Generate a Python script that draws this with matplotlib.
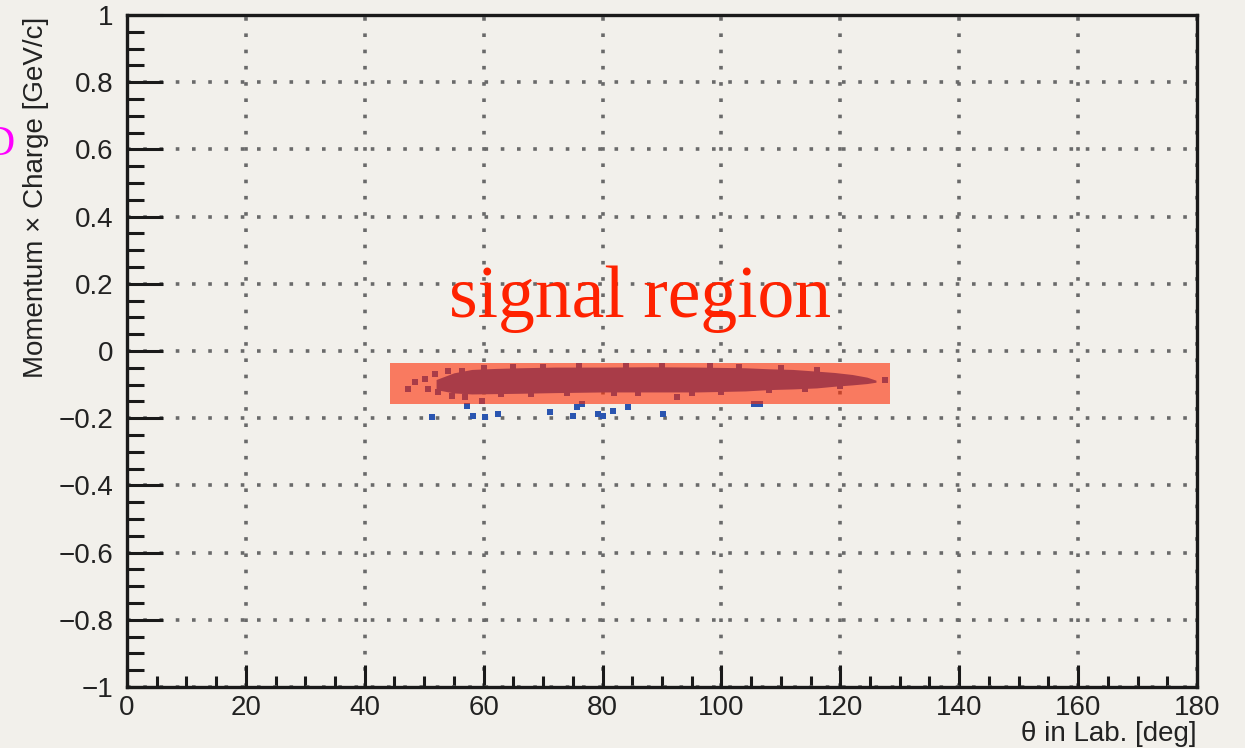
import numpy as np
import matplotlib.pyplot as plt
from matplotlib.patches import Rectangle
from matplotlib.ticker import MultipleLocator

# dense part of the track band: theta [deg] with upper / lower edge of p*q [GeV/c]
band_theta = [52, 55, 58, 62, 66, 72, 80, 88, 96, 104, 108, 112, 116, 119, 122, 124.5, 126]
band_upper = [-0.085, -0.065, -0.055, -0.052, -0.050, -0.048, -0.048, -0.047, -0.048,
              -0.050, -0.053, -0.055, -0.060, -0.064, -0.070, -0.078, -0.087]
band_lower = [-0.115, -0.125, -0.128, -0.127, -0.126, -0.124, -0.122, -0.122, -0.122,
              -0.119, -0.115, -0.113, -0.110, -0.105, -0.101, -0.097, -0.093]

# sparse hits at the band start / end
sparse_theta = [47.3, 48.5, 50.1, 51.8, 54.0, 56.4, 50.6, 52.3, 54.7, 56.9, 59.7, 92.5, 127.5]
sparse_p = [-0.113, -0.092, -0.083, -0.068, -0.060, -0.060, -0.113, -0.122, -0.134,
            -0.137, -0.149, -0.137, -0.086]

# hits on the rim of the band
rim_theta = [60, 65, 70, 76, 84, 90, 98, 103, 110, 116,
             63, 68, 74, 82, 86, 95, 100, 108, 114, 120]
rim_p = [-0.050, -0.047, -0.048, -0.045, -0.046, -0.045, -0.046, -0.048, -0.052, -0.058,
         -0.128, -0.128, -0.126, -0.124, -0.125, -0.124, -0.122, -0.117, -0.113, -0.105]

# hits below the signal band
low_theta = [51.3, 57.2, 58.2, 60.2, 62.4, 71.2, 75.0, 75.7, 76.5, 79.2, 80.1, 81.8,
             84.3, 90.2, 105.5, 106.5]
low_p = [-0.196, -0.164, -0.193, -0.196, -0.188, -0.182, -0.193, -0.167, -0.158,
         -0.188, -0.193, -0.179, -0.167, -0.188, -0.158, -0.158]

# signal window
signal_theta = [44.3, 128.4]
signal_p = [-0.159, -0.036]

bg = '#f2f0eb'
hit_color = '#2a55b0'
ink = '#1a1a1a'

fig = plt.figure(figsize=(12.45, 7.48), dpi=100, facecolor=bg)
ax = fig.add_axes([0.102, 0.0816, 0.8594, 0.8984], facecolor=bg)

ax.fill_between(band_theta, band_lower, band_upper, color=hit_color, lw=0, zorder=2)
for xs, ys in [(sparse_theta, sparse_p), (rim_theta, rim_p), (low_theta, low_p)]:
    ax.plot(xs, ys, 's', color=hit_color, ms=4, mew=0, zorder=2)

ax.add_patch(Rectangle((signal_theta[0], signal_p[0]),
                       signal_theta[1] - signal_theta[0], signal_p[1] - signal_p[0],
                       facecolor='#ff2c03', alpha=0.6, lw=0, zorder=3))

ax.text(86.3, 0.101, 'signal region', color='#ff2200', fontsize=53,
        family='Liberation Serif', ha='center', va='baseline', zorder=4)

ax.set_xlim(0, 180)
ax.set_ylim(-1, 1)
ax.xaxis.set_major_locator(MultipleLocator(20))
ax.xaxis.set_minor_locator(MultipleLocator(5))
ax.yaxis.set_major_locator(MultipleLocator(0.2))
ax.yaxis.set_minor_locator(MultipleLocator(0.05))
ax.yaxis.set_major_formatter(lambda v, pos: ('%g' % round(v, 2)).replace('-', '\u2212'))

ax.grid(True, which='major', color='#6a6a6a', linestyle=(0, (1, 3.5)), lw=2.6)
ax.set_axisbelow(True)

for s in ax.spines.values():
    s.set_linewidth(2.4)
    s.set_color(ink)

ax.tick_params(axis='x', which='major', direction='in', length=16, width=2.2,
               labelsize=20, pad=6, color=ink)
ax.tick_params(axis='x', which='minor', direction='in', length=8, width=2.2, color=ink)
ax.tick_params(axis='y', which='major', direction='in', length=26, width=2.2,
               labelsize=20, pad=10, color=ink)
ax.tick_params(axis='y', which='minor', direction='in', length=12, width=2.2, color=ink)
for lab in ax.get_xticklabels() + ax.get_yticklabels():
    lab.set_family('Liberation Sans')
    lab.set_color('#222222')

fig.text(0.029, 0.978, 'Momentum \u00d7 Charge [GeV/c]', rotation=90, ha='center', va='top',
         fontsize=20, family='Liberation Sans', color='#222222')
fig.text(0.9614, 0.002, '\u03b8 in Lab. [deg]', ha='right', va='bottom',
         fontsize=20, family='Liberation Sans', color='#222222')

# partial magenta mark at the left edge
fig.text(0.012, 0.806, 'D', ha='right', va='center', fontsize=30,
         family='Liberation Serif', color='#ff00ff')

fig.savefig('out.png', dpi=100, facecolor=bg)
